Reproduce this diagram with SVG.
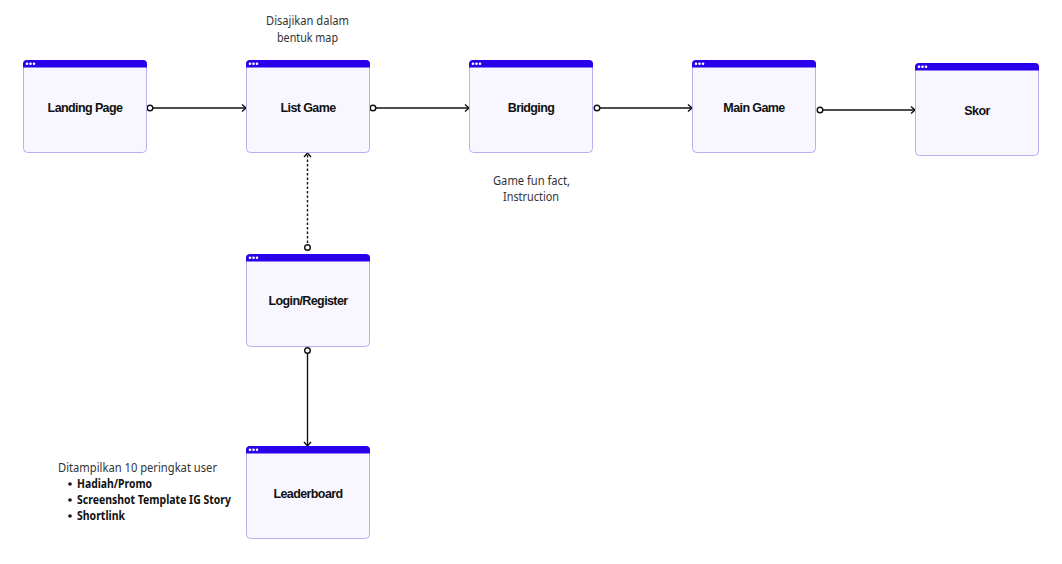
<svg xmlns="http://www.w3.org/2000/svg" width="1062" height="564" viewBox="0 0 1062 564">
<style>
.box{fill:#f8f6ff;stroke:#b9aef2;stroke-width:1}
.bar{fill:#2a00ea}
.dot{fill:#ffffff}
.lbl{font-family:"Liberation Sans",Arial,sans-serif;font-weight:bold;font-size:12.5px;fill:#111;text-anchor:middle;letter-spacing:-0.6px}
.note{font-family:"Noto Sans","Open Sans",sans-serif;font-size:12.5px;fill:#333}
.nb{font-weight:bold;fill:#111;font-size:12px}
.conn{stroke:#111;stroke-width:1.4;fill:none}
</style>
<defs>
<marker id="arr" markerWidth="10" markerHeight="10" refX="7" refY="5" orient="auto" markerUnits="userSpaceOnUse">
<path d="M3,1.5 L7,5 L3,8.5" fill="none" stroke="#111" stroke-width="1.4"/>
</marker>
<marker id="circ" markerWidth="10" markerHeight="10" refX="5" refY="5" orient="auto" markerUnits="userSpaceOnUse">
<circle cx="5" cy="5" r="2.8" fill="#fff" stroke="#111" stroke-width="1.4"/>
</marker>
<g id="win">
<rect class="box" x="0.5" y="0.5" width="123" height="92" rx="4"/>
<path class="bar" d="M0,4 Q0,0 4,0 L120,0 Q124,0 124,4 L124,7.5 L0,7.5 Z"/>
<circle class="dot" cx="4" cy="3.7" r="1.3"/>
<circle class="dot" cx="7.5" cy="3.7" r="1.3"/>
<circle class="dot" cx="11" cy="3.7" r="1.3"/>
</g>
</defs>
<g id="connectors">
<path class="conn" d="M150,108 L246,108" marker-start="url(#circ)" marker-end="url(#arr)"/>
<path class="conn" d="M373,108 L469,108" marker-start="url(#circ)" marker-end="url(#arr)"/>
<path class="conn" d="M597,108 L692,108" marker-start="url(#circ)" marker-end="url(#arr)"/>
<path class="conn" d="M820,110 L915,110" marker-start="url(#circ)" marker-end="url(#arr)"/>
<path class="conn" d="M307.5,247.5 L307.5,153" stroke-dasharray="2.5,2" marker-start="url(#circ)" marker-end="url(#arr)"/>
<path class="conn" d="M307.5,350.5 L307.5,446" marker-start="url(#circ)" marker-end="url(#arr)"/>
</g>
<g id="landing"><use href="#win" x="23" y="60"/><text class="lbl" x="85" y="112">Landing Page</text></g>
<g id="listgame"><use href="#win" x="246" y="60"/><text class="lbl" x="308" y="112">List Game</text></g>
<g id="bridging"><use href="#win" x="469" y="60"/><text class="lbl" x="531" y="112">Bridging</text></g>
<g id="maingame"><use href="#win" x="692" y="60"/><text class="lbl" x="754" y="112">Main Game</text></g>
<g id="skor"><use href="#win" x="915" y="63"/><text class="lbl" x="977" y="115">Skor</text></g>
<g id="login"><use href="#win" x="246" y="254"/><text class="lbl" x="308" y="305">Login/Register</text></g>
<g id="leaderboard"><use href="#win" x="246" y="446"/><text class="lbl" x="308" y="498">Leaderboard</text></g>
<g id="notes">
<text class="note" x="266" y="25" textLength="83" lengthAdjust="spacingAndGlyphs">Disajikan dalam</text>
<text class="note" x="277" y="42" textLength="61" lengthAdjust="spacingAndGlyphs">bentuk map</text>
<text class="note" x="493" y="185" textLength="77" lengthAdjust="spacingAndGlyphs">Game fun fact,</text>
<text class="note" x="503" y="201" textLength="56" lengthAdjust="spacingAndGlyphs">Instruction</text>
<text class="note" x="58" y="472" textLength="159" lengthAdjust="spacingAndGlyphs">Ditampilkan 10 peringkat user</text>
<circle cx="70" cy="484" r="1.8" fill="#111"/>
<circle cx="70" cy="500" r="1.8" fill="#111"/>
<circle cx="70" cy="516" r="1.8" fill="#111"/>
<text class="note nb" x="77" y="488" textLength="75" lengthAdjust="spacingAndGlyphs">Hadiah/Promo</text>
<text class="note nb" x="77" y="504" textLength="154" lengthAdjust="spacingAndGlyphs">Screenshot Template IG Story</text>
<text class="note nb" x="77" y="520" textLength="48" lengthAdjust="spacingAndGlyphs">Shortlink</text>
</g>
</svg>
